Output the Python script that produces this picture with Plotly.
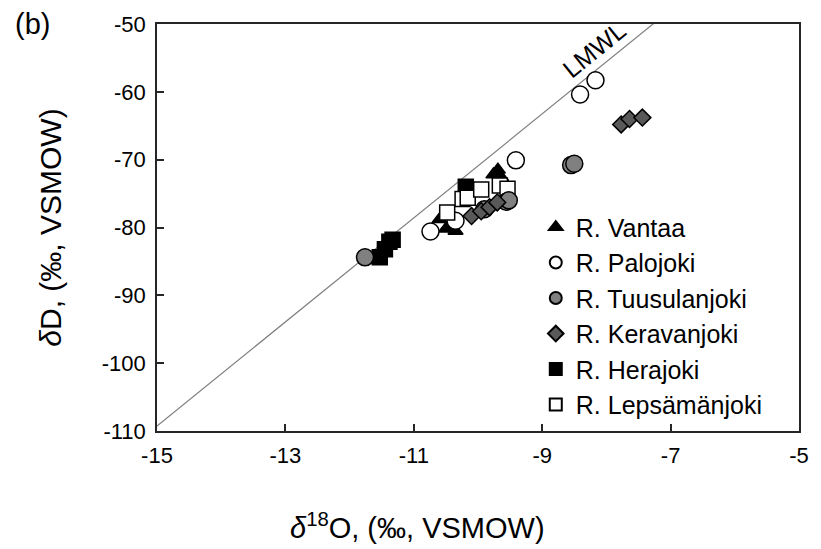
import plotly.graph_objects as go

# ---- data ----
vantaa_x = [-10.60, -10.50, -10.35, -9.76, -9.69, -9.64]
vantaa_y = [-78.8, -80.2, -80.5, -72.2, -71.5, -72.6]

palojoki_x = [-10.74, -10.35, -9.41, -8.41, -8.17]
palojoki_y = [-80.6, -79.0, -70.1, -60.4, -58.3]

tuusulanjoki_x = [-11.76, -9.90, -9.56, -9.52, -8.55, -8.50]
tuusulanjoki_y = [-84.4, -77.3, -76.2, -76.0, -70.8, -70.6]

keravanjoki_x = [-10.10, -9.95, -9.82, -9.70, -7.77, -7.64, -7.44]
keravanjoki_y = [-78.3, -77.6, -77.0, -76.3, -64.8, -64.0, -63.8]

herajoki_x = [-11.53, -11.45, -11.38, -11.33, -10.19]
herajoki_y = [-84.4, -83.2, -82.1, -81.8, -74.0]

lepsamanjoki_x = [-10.48, -10.24, -10.16, -9.95, -9.66, -9.54]
lepsamanjoki_y = [-77.8, -75.8, -75.6, -74.4, -73.8, -74.3]

LMWL_SLOPE = 7.67
LMWL_INTERCEPT = 5.79
lmwl_x = [-15, -5]
lmwl_y = [LMWL_SLOPE * v + LMWL_INTERCEPT for v in lmwl_x]

x_ticks = [-15, -13, -11, -9, -7, -5]
x_tick_labels = ["-15", "-13", "-11", "-9", "-7", "-5"]
y_ticks = [-110, -100, -90, -80, -70, -60, -50]
y_tick_labels = ["-110", "-100", "-90", "-80", "-70", "-60", "-50"]

FONT = "Liberation Sans, Arial, sans-serif"

fig = go.Figure()

fig.add_trace(go.Scatter(x=lmwl_x, y=lmwl_y, mode="lines",
                         line=dict(color="#7f7f7f", width=1.2),
                         showlegend=False, hoverinfo="skip"))

series = [
    # name, x, y, symbol, size, fill, rank
    ("R. Herajoki", herajoki_x, herajoki_y, "square", 15, "#000000", 5),
    ("R. Vantaa", vantaa_x, vantaa_y, "triangle-up", 13, "#000000", 1),
    ("R. Palojoki", palojoki_x, palojoki_y, "circle", 17, "#ffffff", 2),
    ("R. Lepsämänjoki", lepsamanjoki_x, lepsamanjoki_y, "square", 15, "#ffffff", 6),
    ("R. Tuusulanjoki", tuusulanjoki_x, tuusulanjoki_y, "circle", 17, "#808080", 3),
    ("R. Keravanjoki", keravanjoki_x, keravanjoki_y, "diamond", 13, "#595959", 4),
]
for name, xs, ys, sym, size, fill, rank in series:
    fig.add_trace(go.Scatter(
        x=xs, y=ys, mode="markers", name=name, legendrank=rank,
        legendgroup=name,
        marker=dict(symbol=sym, size=size, color=fill,
                    line=dict(color="#000000", width=1.5)),
    ))

fig.add_annotation(x=-8.2, y=-53.8, text="LMWL", showarrow=False,
                   textangle=-39, font=dict(size=25, color="#000000", family=FONT))
fig.add_annotation(x=-0.225, y=1.0, xref="paper", yref="paper", text="(b)",
                   showarrow=False, xanchor="left", yanchor="middle",
                   font=dict(size=29, color="#000000", family=FONT))
# x-axis title (placed left of centre as in the reference)
fig.add_annotation(x=0.405, y=-0.234, xref="paper", yref="paper",
                   text="<i>δ</i><sup>18</sup>O, (‰, VSMOW)",
                   showarrow=False, xanchor="center", yanchor="middle",
                   font=dict(size=29, color="#000000", family=FONT))

axis_common = dict(showgrid=False, zeroline=False, showline=True, mirror=True,
                   linecolor="#262626", linewidth=1.5, ticks="inside",
                   ticklen=7, tickwidth=1.5, tickcolor="#262626",
                   tickfont=dict(size=22, color="#000000", family=FONT))

fig.update_layout(
    width=821, height=549,
    margin=dict(l=157, r=14, t=21, b=118),
    paper_bgcolor="white", plot_bgcolor="white",
    font=dict(family=FONT, color="#000000"),
    xaxis=dict(range=[-15, -5], tickvals=x_ticks, ticktext=x_tick_labels,
               ticklabelstandoff=4, **axis_common),
    yaxis=dict(range=[-110, -50], tickvals=y_ticks, ticktext=y_tick_labels,
               ticklabelstandoff=5,
               title=dict(text="<i>δ</i>D, (‰, VSMOW)",
                          font=dict(size=30), standoff=31),
               **axis_common),
    legend=dict(x=0.59, y=0.557, xanchor="left", yanchor="top",
                bgcolor="rgba(0,0,0,0)", font=dict(size=25, family=FONT),
                tracegroupgap=0, itemwidth=30, itemsizing="constant"),
    showlegend=True,
)

fig.write_html("out.html")
